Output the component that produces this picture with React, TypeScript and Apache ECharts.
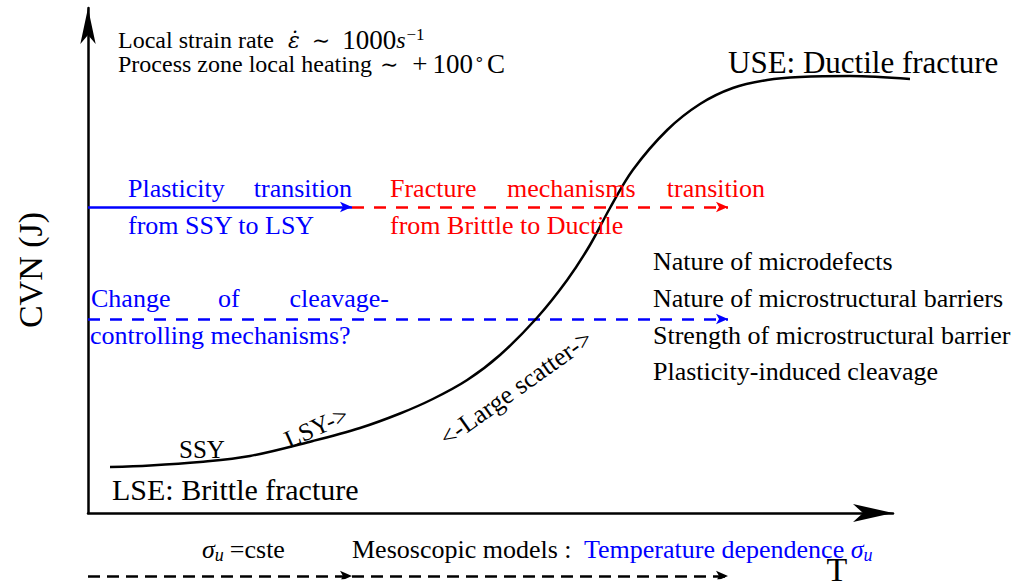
import React, { useEffect, useRef } from "react";
import * as echarts from "echarts";

// Ductile-to-brittle transition curve (schematic): temperature vs Charpy energy
const temperature = [2.75, 7.75, 14.0, 20.25, 28.1, 34.0, 39.0, 43.1, 47.4, 51.5, 56.1, 59.9, 62.75, 65.25, 68.1, 72.4, 76.5, 80.6, 84.9, 89.0, 95.25, 102.75];
const cvn = [9.2, 9.5, 10.2, 11.4, 14.4, 17.0, 19.9, 22.8, 26.6, 31.6, 39.0, 46.6, 53.6, 61.0, 68.6, 76.6, 81.8, 85.0, 86.6, 87.2, 87.4, 86.8];

// Transition arrows: [from T, to T, CVN level]
const plasticityArrow = [0, 33, 61.2];
const fractureArrow = [33, 80, 61.2];
const cleavageArrow = [0, 80, 38.8];
const mesoArrowA = [0, 33, -12.6];
const mesoArrowB = [33, 80, -12.6];

const mechanismList = [
  "Nature of microdefects",
  "Nature of microstructural barriers",
  "Strength of microstructural barrier",
  "Plasticity-induced cleavage",
];
const mechanismRows = [261, 298, 335, 371];

const SERIF = '"Liberation Serif", "Times New Roman", serif';
const MATH = '"DejaVu Serif", serif';
const BLUE = "#0000ff";
const RED = "#ff0000";

function font(size: number, italic = false, family = SERIF) {
  return { fontFamily: family, fontSize: size, fontStyle: italic ? "italic" : "normal" };
}

function label(text: string, x: number, y: number, size: number, color = "#000", align = "left", rotation = 0, rich?: any) {
  return {
    type: "text",
    x,
    y,
    rotation,
    z: 100,
    style: {
      text,
      fill: color,
      ...font(size),
      align,
      verticalAlign: "middle",
      lineHeight: size + 4,
      rich,
    },
  };
}

function arrowSeries(a: number[], color: string, dash: number[] | null) {
  return {
    type: "lines",
    coordinateSystem: "cartesian2d",
    xAxisIndex: 0,
    yAxisIndex: 0,
    silent: true,
    symbol: ["none", "arrow"],
    symbolSize: [[8, 12], [8, 12]],
    lineStyle: { color, width: 2.5, opacity: 1, type: dash ? dash : "solid", curveness: 0 },
    data: [{ coords: [[a[0], a[2]], [a[1], a[2]]] }],
  };
}

const arrowAxis = (size: number[]) => ({
  type: "value",
  gridIndex: 1,
  min: 0,
  max: 1,
  axisLine: { show: true, symbol: ["none", "arrow"], symbolSize: size, lineStyle: { color: "#000", width: 2.5 } },
  axisTick: { show: false },
  axisLabel: { show: false },
  splitLine: { show: false },
});

export default function App() {
  const ref = useRef<HTMLDivElement>(null);

  useEffect(() => {
    if (!ref.current) return;
    const chart = echarts.init(ref.current, undefined, { renderer: "svg" });

    const mathRich = (size: number, color: string) => ({
      i: { ...font(size, true), fill: color },
      n: { ...font(size + 3), fill: color },
      e: { ...font(size - 2, true, MATH), fill: color, padding: [0, 4, 0, 14] },
      m: { ...font(size - 2, false, MATH), fill: color, padding: [0, 12, 0, 8] },
      p: { ...font(size + 3, false), fill: color, padding: [0, 5, 0, 2] },
      sub: { ...font(Math.round(size * 0.7), true), fill: color, verticalAlign: "bottom", lineHeight: Math.round(size * 0.75), padding: [0, 6, 0, 0] },
      sup: { ...font(Math.round(size * 0.72)), fill: color, verticalAlign: "top", lineHeight: Math.round(size * 0.75), padding: [0, 2, 0, 1] },
    });

    const option: any = {
      animation: false,
      grid: [
        { left: 88, top: 3, width: 920, height: 575 },
        { left: 88, top: 8, width: 805, height: 505 },
      ],
      xAxis: [
        { type: "value", gridIndex: 0, min: 0, max: 115, show: false },
        arrowAxis([13.5, 40]),
      ],
      yAxis: [
        { type: "value", gridIndex: 0, min: -13, max: 102, show: false },
        arrowAxis([11.5, 36]),
      ],
      series: [
        {
          type: "line",
          xAxisIndex: 0,
          yAxisIndex: 0,
          data: temperature.map((t, i) => [t, cvn[i]]),
          showSymbol: false,
          smooth: 0.35,
          clip: false,
          silent: true,
          lineStyle: { color: "#000", width: 2.5 },
        },
        arrowSeries(plasticityArrow, BLUE, null),
        arrowSeries(fractureArrow, RED, [12, 10]),
        arrowSeries(cleavageArrow, BLUE, [12, 10]),
        arrowSeries(mesoArrowA, "#000", [12, 7]),
        arrowSeries(mesoArrowB, "#000", [12, 7]),
      ],
      graphic: [
        label("Local strain rate{e|\u03b5\u0307}{m|\u223c}{n|1000}{i|s}{sup|\u22121}", 118, 40, 24, "#000", "left", 0, mathRich(24, "#000")),
        label("Process zone local heating{m|\u223c}{p|+}{n|100}{sup|\u2218}{n|C}", 118, 64, 24, "#000", "left", 0, mathRich(24, "#000")),
        label("USE: Ductile fracture", 728, 62, 31),
        label("Plasticity", 128, 188, 26, BLUE),
        label("transition", 352, 188, 26, BLUE, "right"),
        label("from SSY to LSY", 128, 225, 26, BLUE),
        label("Fracture", 390, 188, 26, RED),
        label("mechanisms", 507, 188, 26, RED),
        label("transition", 765, 188, 26, RED, "right"),
        label("from Brittle to Ductile", 390, 225, 26, RED),
        label("Change", 91, 298, 26, BLUE),
        label("of", 218, 298, 26, BLUE),
        label("cleavage-", 389, 298, 26, BLUE, "right"),
        label("controlling mechanisms?", 90, 335, 26, BLUE),
        ...mechanismList.map((t, i) => label(t, 653, mechanismRows[i], 26)),
        label("SSY", 179, 449, 25),
        label("LSY->", 316, 427, 25, "#000", "center", 0.42),
        label("<-Large scatter->", 516, 388, 26, "#000", "center", 0.62),
        label("LSE: Brittle fracture", 112, 489, 30),
        label("{i|\u03c3}{sub|u}=cste", 202, 549, 26, "#000", "left", 0, mathRich(26, "#000")),
        label("Mesoscopic models :", 352, 549, 26),
        label("Temperature dependence {i|\u03c3}{sub|u}", 584, 549, 26, BLUE, "left", 0, mathRich(26, BLUE)),
        label("T", 837, 569, 34, "#000", "center"),
        label("CVN (J)", 30, 270, 34, "#000", "center", Math.PI / 2),
      ],
    };

    chart.setOption(option);
    return () => chart.dispose();
  }, []);

  return (
    <div
      ref={ref}
      style={{ position: "fixed", left: 0, top: 0, width: 1020, height: 582, background: "#fff" }}
    />
  );
}
